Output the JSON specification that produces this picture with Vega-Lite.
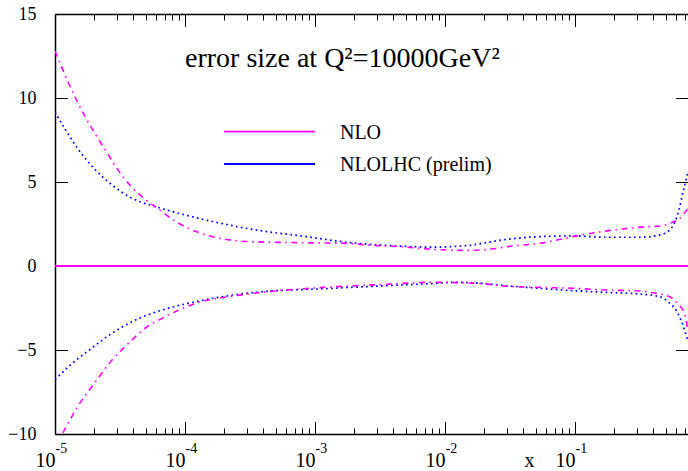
{
  "$schema": "https://vega.github.io/schema/vega-lite/v6.json",
  "autosize": "none",
  "padding": {"left": 55, "top": 14, "right": 0, "bottom": 37},
  "width": 633,
  "height": 420,
  "title": {
    "text": "error size at Q²=10000GeV²",
    "font": "Liberation Serif",
    "fontSize": 28,
    "fontWeight": "normal",
    "color": "black",
    "anchor": "start",
    "frame": "group",
    "baseline": "alphabetic",
    "offset": 0,
    "dx": 130,
    "dy": 90
  },
  "datasets": {
    "curves": [
      {"model": "NLOLHC (prelim)", "band": "up", "x": 1e-5, "y": 9.16},
      {"model": "NLOLHC (prelim)", "band": "up", "x": 1.202e-5, "y": 8.12},
      {"model": "NLOLHC (prelim)", "band": "up", "x": 1.514e-5, "y": 6.93},
      {"model": "NLOLHC (prelim)", "band": "up", "x": 2.042e-5, "y": 5.73},
      {"model": "NLOLHC (prelim)", "band": "up", "x": 2.729e-5, "y": 4.84},
      {"model": "NLOLHC (prelim)", "band": "up", "x": 3.89e-5, "y": 4.04},
      {"model": "NLOLHC (prelim)", "band": "up", "x": 5.888e-5, "y": 3.54},
      {"model": "NLOLHC (prelim)", "band": "up", "x": 8.83e-5, "y": 3.15},
      {"model": "NLOLHC (prelim)", "band": "up", "x": 1.622e-4, "y": 2.65},
      {"model": "NLOLHC (prelim)", "band": "up", "x": 3.89e-4, "y": 2.09},
      {"model": "NLOLHC (prelim)", "band": "up", "x": 7.67e-4, "y": 1.8},
      {"model": "NLOLHC (prelim)", "band": "up", "x": 1.862e-3, "y": 1.39},
      {"model": "NLOLHC (prelim)", "band": "up", "x": 4.508e-3, "y": 1.19},
      {"model": "NLOLHC (prelim)", "band": "up", "x": 8.128e-3, "y": 1.12},
      {"model": "NLOLHC (prelim)", "band": "up", "x": 1.096e-2, "y": 1.15},
      {"model": "NLOLHC (prelim)", "band": "up", "x": 1.479e-2, "y": 1.22},
      {"model": "NLOLHC (prelim)", "band": "up", "x": 3.02e-2, "y": 1.59},
      {"model": "NLOLHC (prelim)", "band": "up", "x": 5.37e-2, "y": 1.75},
      {"model": "NLOLHC (prelim)", "band": "up", "x": 9.66e-2, "y": 1.79},
      {"model": "NLOLHC (prelim)", "band": "up", "x": 0.1758, "y": 1.71},
      {"model": "NLOLHC (prelim)", "band": "up", "x": 0.3162, "y": 1.71},
      {"model": "NLOLHC (prelim)", "band": "up", "x": 0.4508, "y": 1.85},
      {"model": "NLOLHC (prelim)", "band": "up", "x": 0.537, "y": 2.15},
      {"model": "NLOLHC (prelim)", "band": "up", "x": 0.6095, "y": 2.95},
      {"model": "NLOLHC (prelim)", "band": "up", "x": 0.676, "y": 4.34},
      {"model": "NLOLHC (prelim)", "band": "up", "x": 0.74, "y": 5.63},

      {"model": "NLOLHC (prelim)", "band": "lo", "x": 1e-5, "y": -6.77},
      {"model": "NLOLHC (prelim)", "band": "lo", "x": 1.349e-5, "y": -5.81},
      {"model": "NLOLHC (prelim)", "band": "lo", "x": 1.82e-5, "y": -5.02},
      {"model": "NLOLHC (prelim)", "band": "lo", "x": 2.729e-5, "y": -4.02},
      {"model": "NLOLHC (prelim)", "band": "lo", "x": 4.121e-5, "y": -3.23},
      {"model": "NLOLHC (prelim)", "band": "lo", "x": 6.607e-5, "y": -2.63},
      {"model": "NLOLHC (prelim)", "band": "lo", "x": 1.202e-4, "y": -2.13},
      {"model": "NLOLHC (prelim)", "band": "lo", "x": 2.153e-4, "y": -1.77},
      {"model": "NLOLHC (prelim)", "band": "lo", "x": 3.89e-4, "y": -1.53},
      {"model": "NLOLHC (prelim)", "band": "lo", "x": 1.03e-3, "y": -1.37},
      {"model": "NLOLHC (prelim)", "band": "lo", "x": 3.334e-3, "y": -1.18},
      {"model": "NLOLHC (prelim)", "band": "lo", "x": 8.128e-3, "y": -1.04},
      {"model": "NLOLHC (prelim)", "band": "lo", "x": 1.2e-2, "y": -0.97},
      {"model": "NLOLHC (prelim)", "band": "lo", "x": 1.66e-2, "y": -1.0},
      {"model": "NLOLHC (prelim)", "band": "lo", "x": 3.02e-2, "y": -1.18},
      {"model": "NLOLHC (prelim)", "band": "lo", "x": 5.37e-2, "y": -1.33},
      {"model": "NLOLHC (prelim)", "band": "lo", "x": 9.66e-2, "y": -1.47},
      {"model": "NLOLHC (prelim)", "band": "lo", "x": 0.1758, "y": -1.57},
      {"model": "NLOLHC (prelim)", "band": "lo", "x": 0.3162, "y": -1.67},
      {"model": "NLOLHC (prelim)", "band": "lo", "x": 0.4508, "y": -1.83},
      {"model": "NLOLHC (prelim)", "band": "lo", "x": 0.537, "y": -2.23},
      {"model": "NLOLHC (prelim)", "band": "lo", "x": 0.6095, "y": -2.73},
      {"model": "NLOLHC (prelim)", "band": "lo", "x": 0.676, "y": -3.52},
      {"model": "NLOLHC (prelim)", "band": "lo", "x": 0.74, "y": -4.5},

      {"model": "NLOLHC (prelim)", "band": "central", "x": 1e-5, "y": 0},
      {"model": "NLOLHC (prelim)", "band": "central", "x": 0.74, "y": 0},

      {"model": "NLO", "band": "up", "x": 1e-5, "y": 12.8},
      {"model": "NLO", "band": "up", "x": 1.303e-5, "y": 10.7},
      {"model": "NLO", "band": "up", "x": 1.698e-5, "y": 8.92},
      {"model": "NLO", "band": "up", "x": 2.427e-5, "y": 6.93},
      {"model": "NLO", "band": "up", "x": 3.467e-5, "y": 5.14},
      {"model": "NLO", "band": "up", "x": 4.645e-5, "y": 4.14},
      {"model": "NLO", "band": "up", "x": 5.888e-5, "y": 3.54},
      {"model": "NLO", "band": "up", "x": 8.83e-5, "y": 2.57},
      {"model": "NLO", "band": "up", "x": 1.318e-4, "y": 1.95},
      {"model": "NLO", "band": "up", "x": 1.795e-4, "y": 1.67},
      {"model": "NLO", "band": "up", "x": 3.162e-4, "y": 1.45},
      {"model": "NLO", "band": "up", "x": 7.67e-4, "y": 1.39},
      {"model": "NLO", "band": "up", "x": 1.862e-3, "y": 1.34},
      {"model": "NLO", "band": "up", "x": 2.512e-3, "y": 1.25},
      {"model": "NLO", "band": "up", "x": 4.467e-3, "y": 1.15},
      {"model": "NLO", "band": "up", "x": 8.128e-3, "y": 0.99},
      {"model": "NLO", "band": "up", "x": 1.479e-2, "y": 0.93},
      {"model": "NLO", "band": "up", "x": 2.512e-2, "y": 1.05},
      {"model": "NLO", "band": "up", "x": 3.02e-2, "y": 1.15},
      {"model": "NLO", "band": "up", "x": 5.37e-2, "y": 1.35},
      {"model": "NLO", "band": "up", "x": 9.66e-2, "y": 1.75},
      {"model": "NLO", "band": "up", "x": 0.1758, "y": 2.09},
      {"model": "NLO", "band": "up", "x": 0.3162, "y": 2.31},
      {"model": "NLO", "band": "up", "x": 0.475, "y": 2.4},
      {"model": "NLO", "band": "up", "x": 0.567, "y": 2.62},
      {"model": "NLO", "band": "up", "x": 0.62, "y": 2.75},
      {"model": "NLO", "band": "up", "x": 0.68, "y": 3.05},
      {"model": "NLO", "band": "up", "x": 0.74, "y": 3.46},

      {"model": "NLO", "band": "lo", "x": 1e-5, "y": -10.8},
      {"model": "NLO", "band": "lo", "x": 1.194e-5, "y": -9.7},
      {"model": "NLO", "band": "lo", "x": 1.514e-5, "y": -8.3},
      {"model": "NLO", "band": "lo", "x": 2.042e-5, "y": -6.91},
      {"model": "NLO", "band": "lo", "x": 2.729e-5, "y": -5.62},
      {"model": "NLO", "band": "lo", "x": 3.89e-5, "y": -4.42},
      {"model": "NLO", "band": "lo", "x": 4.898e-5, "y": -3.72},
      {"model": "NLO", "band": "lo", "x": 6.607e-5, "y": -3.13},
      {"model": "NLO", "band": "lo", "x": 8.913e-5, "y": -2.63},
      {"model": "NLO", "band": "lo", "x": 1.202e-4, "y": -2.23},
      {"model": "NLO", "band": "lo", "x": 2.153e-4, "y": -1.83},
      {"model": "NLO", "band": "lo", "x": 3.89e-4, "y": -1.57},
      {"model": "NLO", "band": "lo", "x": 1.03e-3, "y": -1.3},
      {"model": "NLO", "band": "lo", "x": 3.334e-3, "y": -1.1},
      {"model": "NLO", "band": "lo", "x": 8.128e-3, "y": -0.97},
      {"model": "NLO", "band": "lo", "x": 1.66e-2, "y": -1.02},
      {"model": "NLO", "band": "lo", "x": 3.02e-2, "y": -1.2},
      {"model": "NLO", "band": "lo", "x": 5.37e-2, "y": -1.27},
      {"model": "NLO", "band": "lo", "x": 9.66e-2, "y": -1.33},
      {"model": "NLO", "band": "lo", "x": 0.1758, "y": -1.43},
      {"model": "NLO", "band": "lo", "x": 0.3162, "y": -1.49},
      {"model": "NLO", "band": "lo", "x": 0.38, "y": -1.57},
      {"model": "NLO", "band": "lo", "x": 0.537, "y": -1.83},
      {"model": "NLO", "band": "lo", "x": 0.6166, "y": -2.23},
      {"model": "NLO", "band": "lo", "x": 0.6998, "y": -2.9},
      {"model": "NLO", "band": "lo", "x": 0.74, "y": -3.9},

      {"model": "NLO", "band": "central", "x": 1e-5, "y": 0},
      {"model": "NLO", "band": "central", "x": 0.74, "y": 0}
    ],
    "legend": [
      {"model": "NLO", "x": 2e-4, "x2": 1e-3, "tx": 1.556e-3, "y": 8.0},
      {"model": "NLOLHC (prelim)", "x": 2e-4, "x2": 1e-3, "tx": 1.556e-3, "y": 6.07}
    ]
  },
  "resolve": {"axis": {"x": "independent", "y": "independent"}},
  "layer": [
    {
      "data": {"name": "curves"},
      "transform": [{"filter": "datum.model == 'NLOLHC (prelim)' && datum.band != 'central'"}],
      "mark": {"type": "line", "clip": true, "interpolate": "monotone", "strokeWidth": 1.7, "strokeDash": [1.7, 3.3]},
      "encoding": {
        "x": {"field": "x", "type": "quantitative",
          "scale": {"type": "log", "domain": [1e-5, 0.74], "nice": false},
          "axis": {"orient": "bottom", "values": [1e-5, 1e-4, 1e-3, 1e-2, 1e-1], "labelExpr": "'10'",
            "ticks": false, "domain": true, "domainColor": "black", "domainWidth": 1.5,
            "labelFont": "Liberation Serif", "labelFontSize": 20, "labelBaseline": "alphabetic",
            "labelAlign": "right", "labelDx": 4, "labelPadding": 32,
            "title": "x", "titleFont": "Liberation Serif", "titleFontSize": 20, "titleFontWeight": "normal",
            "titleX": 474, "titleY": 32, "titleBaseline": "alphabetic", "titleAlign": "center", "titleColor": "black"}},
        "y": {"field": "y", "type": "quantitative",
          "scale": {"domain": [-10, 15], "nice": false, "zero": false},
          "axis": {"orient": "left", "values": [-10, -5, 0, 5, 10, 15], "ticks": false, "domain": true,
            "domainColor": "black", "domainWidth": 1.5, "labelFont": "Liberation Serif", "labelFontSize": 18,
            "labelPadding": 19, "labelBaseline": "middle", "title": null}},
        "color": {"field": "model", "type": "nominal",
          "scale": {"domain": ["NLO", "NLOLHC (prelim)"], "range": ["#ff00ff", "#0000ff"]}, "legend": null},
        "detail": {"field": "band"}
      }
    },
    {
      "data": {"name": "curves"},
      "transform": [{"filter": "datum.model == 'NLO' && datum.band != 'central'"}],
      "mark": {"type": "line", "clip": true, "interpolate": "monotone", "strokeWidth": 1.6, "strokeDash": [6, 4.5, 1.6, 4.5]},
      "encoding": {
        "x": {"field": "x", "type": "quantitative",
          "scale": {"type": "log", "domain": [1e-5, 0.74], "nice": false},
          "axis": {"orient": "bottom", "values": [1e-5, 1e-4, 1e-3, 1e-2, 1e-1],
            "labelExpr": "'' + round(log(datum.value) / LN10)",
            "ticks": false, "domain": false, "labelFont": "Liberation Serif", "labelFontSize": 14,
            "labelBaseline": "alphabetic", "labelAlign": "left", "labelDx": 8, "labelPadding": 18, "title": null}},
        "y": {"field": "y", "type": "quantitative",
          "scale": {"domain": [-10, 15], "nice": false, "zero": false},
          "axis": {"orient": "left", "values": [-10, -5, 0, 5, 10, 15], "labels": false, "domain": false,
            "ticks": true, "tickSize": -12.5, "tickColor": "black", "tickWidth": 1, "title": null}},
        "color": {"field": "model", "type": "nominal",
          "scale": {"domain": ["NLO", "NLOLHC (prelim)"], "range": ["#ff00ff", "#0000ff"]}, "legend": null},
        "detail": {"field": "band"}
      }
    },
    {
      "data": {"name": "curves"},
      "transform": [{"filter": "datum.model == 'NLOLHC (prelim)' && datum.band == 'central'"}],
      "mark": {"type": "line", "clip": true, "strokeWidth": 2},
      "encoding": {
        "x": {"field": "x", "type": "quantitative",
          "scale": {"type": "log", "domain": [1e-5, 0.74], "nice": false},
          "axis": {"orient": "bottom", "values": [1e-5, 1e-4, 1e-3, 1e-2, 1e-1], "labels": false,
            "domain": false, "ticks": true, "tickSize": -12.5, "tickColor": "black", "tickWidth": 1, "title": null}},
        "y": {"field": "y", "type": "quantitative",
          "scale": {"domain": [-10, 15], "nice": false, "zero": false},
          "axis": {"orient": "right", "values": [-10, -5, 0, 5, 10, 15], "labels": false, "domain": false,
            "ticks": true, "tickSize": -12.5, "tickColor": "black", "tickWidth": 1, "title": null}},
        "color": {"field": "model", "type": "nominal",
          "scale": {"domain": ["NLO", "NLOLHC (prelim)"], "range": ["#ff00ff", "#0000ff"]}, "legend": null},
        "detail": {"field": "band"}
      }
    },
    {
      "data": {"name": "curves"},
      "transform": [{"filter": "datum.model == 'NLO' && datum.band == 'central'"}],
      "mark": {"type": "line", "clip": true, "strokeWidth": 2.2},
      "encoding": {
        "x": {"field": "x", "type": "quantitative",
          "scale": {"type": "log", "domain": [1e-5, 0.74], "nice": false},
          "axis": {"orient": "bottom",
            "values": [2e-5, 3e-5, 4e-5, 5e-5, 6e-5, 7e-5, 8e-5, 9e-5, 2e-4, 3e-4, 4e-4, 5e-4, 6e-4, 7e-4, 8e-4, 9e-4, 2e-3, 3e-3, 4e-3, 5e-3, 6e-3, 7e-3, 8e-3, 9e-3, 2e-2, 3e-2, 4e-2, 5e-2, 6e-2, 7e-2, 8e-2, 9e-2, 0.2, 0.3, 0.4, 0.5, 0.6, 0.7],
            "labels": false, "domain": false, "ticks": true, "tickSize": -6, "tickColor": "black", "tickWidth": 1, "title": null}},
        "y": {"field": "y", "type": "quantitative",
          "scale": {"domain": [-10, 15], "nice": false, "zero": false}, "axis": null},
        "color": {"field": "model", "type": "nominal",
          "scale": {"domain": ["NLO", "NLOLHC (prelim)"], "range": ["#ff00ff", "#0000ff"]}, "legend": null},
        "detail": {"field": "band"}
      }
    },
    {
      "data": {"name": "legend"},
      "mark": {"type": "rule", "strokeWidth": 1.8},
      "encoding": {
        "x": {"field": "x", "type": "quantitative",
          "scale": {"type": "log", "domain": [1e-5, 0.74], "nice": false},
          "axis": {"orient": "top", "values": [1e-5, 1e-4, 1e-3, 1e-2, 1e-1], "labels": false,
            "domain": true, "domainColor": "black", "domainWidth": 1.5, "ticks": true, "tickSize": -12.5,
            "tickColor": "black", "tickWidth": 1, "title": null}},
        "x2": {"field": "x2"},
        "y": {"field": "y", "type": "quantitative",
          "scale": {"domain": [-10, 15], "nice": false, "zero": false}, "axis": null},
        "color": {"field": "model", "type": "nominal",
          "scale": {"domain": ["NLO", "NLOLHC (prelim)"], "range": ["#ff00ff", "#0000ff"]}, "legend": null}
      }
    },
    {
      "data": {"name": "legend"},
      "mark": {"type": "text", "align": "left", "baseline": "middle", "dy": 1, "font": "Liberation Serif", "fontSize": 20, "fill": "black"},
      "encoding": {
        "x": {"field": "tx", "type": "quantitative",
          "scale": {"type": "log", "domain": [1e-5, 0.74], "nice": false},
          "axis": {"orient": "top",
            "values": [2e-5, 3e-5, 4e-5, 5e-5, 6e-5, 7e-5, 8e-5, 9e-5, 2e-4, 3e-4, 4e-4, 5e-4, 6e-4, 7e-4, 8e-4, 9e-4, 2e-3, 3e-3, 4e-3, 5e-3, 6e-3, 7e-3, 8e-3, 9e-3, 2e-2, 3e-2, 4e-2, 5e-2, 6e-2, 7e-2, 8e-2, 9e-2, 0.2, 0.3, 0.4, 0.5, 0.6, 0.7],
            "labels": false, "domain": false, "ticks": true, "tickSize": -6, "tickColor": "black", "tickWidth": 1, "title": null}},
        "y": {"field": "y", "type": "quantitative",
          "scale": {"domain": [-10, 15], "nice": false, "zero": false}, "axis": null},
        "text": {"field": "model"}
      }
    }
  ],
  "config": {
    "view": {"stroke": null},
    "font": "Liberation Serif",
    "text": {"font": "Liberation Serif"},
    "axis": {"grid": false, "labelFont": "Liberation Serif", "titleFont": "Liberation Serif", "labelColor": "black", "labelFlush": false,
      "labelOverlap": false, "labelBound": false}
  }
}
